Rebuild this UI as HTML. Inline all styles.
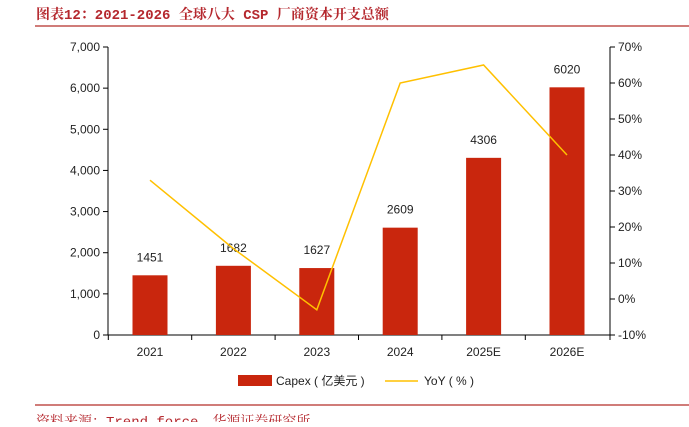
<!DOCTYPE html>
<html><head><meta charset="utf-8"><style>
body{margin:0;width:689px;height:422px;overflow:hidden;background:#fff;font-family:"Liberation Sans","Noto Sans CJK SC",sans-serif;}
</style></head><body>
<svg width="689" height="422" xmlns="http://www.w3.org/2000/svg">
<text x="36" y="19" font-size="14" font-weight="bold" fill="#b5282e" font-family="'Liberation Mono','Noto Serif CJK SC',serif">图表12：2021-2026 全球八大 CSP 厂商资本开支总额</text>
<line x1="35" y1="26" x2="689" y2="26" stroke="#c0504d" stroke-width="1.5"/>
<g id="plot"></g>
<g>
<rect x="238" y="375" width="34" height="11" fill="#c9260d"/>
<text x="276" y="385" font-size="12" fill="#222">Capex ( 亿美元 )</text>
<line x1="385" y1="381" x2="418" y2="381" stroke="#ffc000" stroke-width="1.5"/>
<text x="424" y="385" font-size="12" fill="#222">YoY ( % )</text>
</g>
<line x1="35" y1="405" x2="689" y2="405" stroke="#c0504d" stroke-width="1.5"/>
<text x="36" y="426" font-size="14" fill="#b5282e" font-family="'Liberation Mono','Noto Serif CJK SC',serif">资料来源：Trend force，华源证券研究所</text>
</svg>
<script>
const categories=["2021","2022","2023","2024","2025E","2026E"];
const capex=[1451,1682,1627,2609,4306,6020];
const yoy=[33,14,-3,60,65,40];
const leftTicks=[0,1000,2000,3000,4000,5000,6000,7000];
const rightTicks=[-10,0,10,20,30,40,50,60,70];
const NS="http://www.w3.org/2000/svg";
const g=document.getElementById('plot');
const L=108,R=610,T=47,B=335;
const yL=v=>B-(v/7000)*(B-T);
const yR=v=>B-((v+10)/80)*(B-T);
const xC=i=>150+i*83.4;
function el(t,a,txt){const e=document.createElementNS(NS,t);for(const k in a)e.setAttribute(k,a[k]);if(txt!==undefined)e.textContent=txt;g.appendChild(e);return e;}
let e;
e=el('line',{x1:L,y1:T,x2:L,y2:B,stroke:'#000'});


e=el('line',{x1:R,y1:T,x2:R,y2:B,stroke:'#000'});


e=el('line',{x1:L,y1:B,x2:R,y2:B,stroke:'#000'});


leftTicks.forEach(v=>{const y=yL(v);
e=el('line',{x1:L-5,y1:y,x2:L,y2:y,stroke:'#000'});


e=el('text',{x:L-8,y:y+4,'font-size':12,'text-anchor':'end',fill:'#222'},v.toLocaleString('en-US'));

});
rightTicks.forEach(v=>{const y=yR(v);
e=el('line',{x1:R,y1:y,x2:R+5,y2:y,stroke:'#000'});


e=el('text',{x:R+8,y:y+4,'font-size':12,fill:'#222'},v+'%');

});
categories.forEach((c,i)=>{const x=xC(i);
e=el('line',{x1:x-41.7,y1:B,x2:x-41.7,y2:B+5,stroke:'#000'});


e=el('rect',{x:x-17.5,y:yL(capex[i]),width:35,height:B-yL(capex[i]),fill:'#c9260d'});


e=el('text',{x:x,y:yL(capex[i])-14,'font-size':12,'text-anchor':'middle',fill:'#222'},capex[i]);


e=el('text',{x:x,y:B+21,'font-size':12,'text-anchor':'middle',fill:'#222'},c);

});
e=el('line',{x1:R,y1:B,x2:R,y2:B+5,stroke:'#000'});


e=el('polyline',{points:yoy.map((v,i)=>xC(i)+','+yR(v)).join(' '),fill:'none',stroke:'#ffc000','stroke-width':1.5});


</script>
</body></html>
